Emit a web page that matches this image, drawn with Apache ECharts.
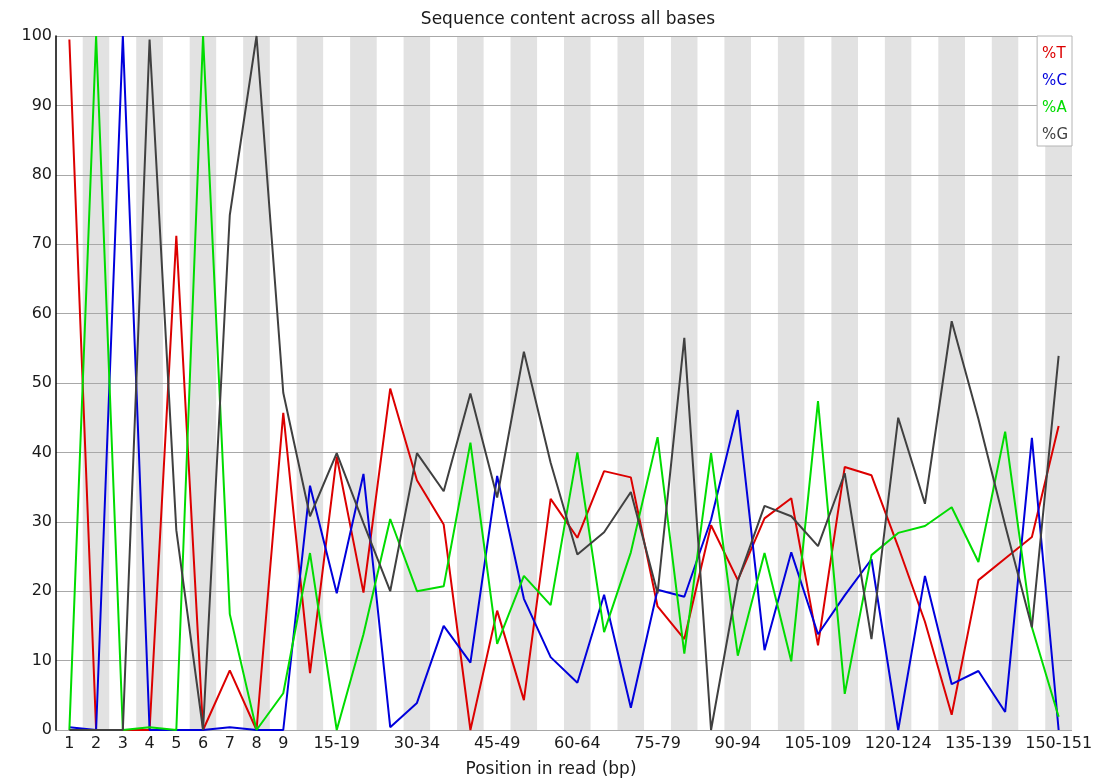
<!DOCTYPE html>
<html>
<head>
<meta charset="utf-8">
<title>Sequence content across all bases</title>
<script src="https://cdn.jsdelivr.net/npm/echarts@6/dist/echarts.min.js"></script>
<style>
  html, body { margin: 0; padding: 0; background: #ffffff; }
  #chart { width: 1102px; height: 780px; }
</style>
</head>
<body>
<div id="chart"></div>
<script>
// Read positions (single bases, then 5 bp bins, then the final 2 bp bin)
const positions = [
  '1', '2', '3', '4', '5', '6', '7', '8', '9',
  '10-14', '15-19', '20-24', '25-29', '30-34', '35-39', '40-44', '45-49',
  '50-54', '55-59', '60-64', '65-69', '70-74', '75-79', '80-84', '85-89',
  '90-94', '95-99', '100-104', '105-109', '110-114', '115-119', '120-124',
  '125-129', '130-134', '135-139', '140-144', '145-149', '150-151'
];

// Percentage of each base at each position
const pctT = [99.5, 0, 0, 0, 71.2, 0, 8.6, 0, 45.7, 8.2, 39.4, 19.8, 49.2, 36.0, 29.6, 0, 17.2, 4.3, 33.3,
  27.7, 37.3, 36.4, 17.8, 13.1, 29.5, 21.6, 30.5, 33.4, 12.2, 37.9, 36.7, 26.4, 15.6, 2.2, 21.6, 24.7, 27.8, 43.8];
const pctC = [0.4, 0, 100, 0, 0, 0, 0.4, 0, 0, 35.2, 19.7, 36.9, 0.4, 3.9, 15.0, 9.7, 36.6, 18.9, 10.5,
  6.8, 19.5, 3.2, 20.2, 19.2, 30.3, 46.1, 11.5, 25.6, 13.8, 19.4, 24.6, 0, 22.2, 6.6, 8.5, 2.6, 42.1, 0];
const pctA = [0, 100, 0, 0.4, 0, 100, 16.7, 0, 5.3, 25.5, 0, 13.8, 30.4, 20.0, 20.7, 41.4, 12.4, 22.2, 18.0,
  40.0, 14.1, 25.6, 42.2, 11.0, 39.9, 10.7, 25.5, 9.9, 47.4, 5.2, 25.2, 28.4, 29.4, 32.1, 24.2, 43.0, 14.8, 1.9];
const pctG = [0, 0, 0, 99.5, 28.8, 0, 74.2, 100, 48.6, 30.8, 39.9, 29.8, 20.0, 39.9, 34.4, 48.5, 33.5, 54.5, 38.5,
  25.3, 28.5, 34.3, 19.7, 56.5, 0, 21.5, 32.3, 30.8, 26.5, 37.0, 13.1, 45.0, 32.6, 58.9, 44.8, 29.5, 14.8, 53.9];

const yTicks = { min: 0, max: 100, step: 10 };

const baseSeries = [
  { name: '%T', data: pctT, color: '#dc0000' },
  { name: '%C', data: pctC, color: '#0000dc' },
  { name: '%A', data: pctA, color: '#00dc00' },
  { name: '%G', data: pctG, color: '#404040' }
];

const FONT = 'DejaVu Sans';
const chart = echarts.init(document.getElementById('chart'), null, { renderer: 'canvas' });

chart.setOption({
  backgroundColor: '#ffffff',
  animation: false,
  textStyle: { fontFamily: FONT },
  title: {
    text: 'Sequence content across all bases',
    left: 563, top: 6, textAlign: 'center',
    textStyle: { fontFamily: FONT, fontSize: 17, fontWeight: 'normal', color: '#1a1a1a' }
  },
  legend: {
    orient: 'vertical',
    right: 30, top: 36,
    padding: [11, 4, 3, 0],
    itemWidth: 0, itemHeight: 0, itemGap: 12,
    backgroundColor: '#ffffff',
    borderColor: '#b4b4b4', borderWidth: 1, borderRadius: 0,
    selectedMode: false,
    data: baseSeries.map(s => ({ name: s.name, icon: 'rect', textStyle: { color: s.color } })),
    textStyle: { fontFamily: FONT, fontSize: 15 }
  },
  // Fixed plot rectangle; labels are allowed to sit outside it
  grid: { left: 56, right: 30, top: 36, bottom: 50, containLabel: false, outerBoundsMode: 'none' },
  xAxis: {
    type: 'category',
    data: positions,
    boundaryGap: true,
    z: 0,
    name: 'Position in read (bp)',
    nameLocation: 'middle',
    nameGap: 31,
    nameTextStyle: { fontFamily: FONT, fontSize: 17, color: '#1a1a1a', padding: [0, 26, 0, 0] },
    axisLine: { show: false },
    axisTick: { show: false },
    axisLabel: {
      interval: (idx) => idx < 9 || (idx - 10) % 3 === 0,
      margin: 6,
      fontFamily: FONT, fontSize: 16, color: '#1a1a1a'
    },
    splitLine: { show: false },
    splitArea: {
      show: true,
      interval: 0,
      areaStyle: { color: ['#ffffff', '#e2e2e2'] }
    }
  },
  yAxis: {
    type: 'value',
    min: yTicks.min, max: yTicks.max, interval: yTicks.step,
    z: 1,
    axisLine: { show: true, lineStyle: { color: '#000000', width: 1.5 } },
    axisTick: { show: false },
    axisLabel: { margin: 4, fontFamily: FONT, fontSize: 16, color: '#1a1a1a' },
    splitLine: { show: true, lineStyle: { color: '#a8a8a8', width: 1 } }
  },
  series: baseSeries.map(s => ({
    name: s.name,
    type: 'line',
    data: s.data,
    showSymbol: false,
    symbol: 'none',
    smooth: false,
    color: s.color,
    lineStyle: { color: s.color, width: 2 },
    emphasis: { disabled: true },
    z: 3
  }))
});
</script>
</body>
</html>
